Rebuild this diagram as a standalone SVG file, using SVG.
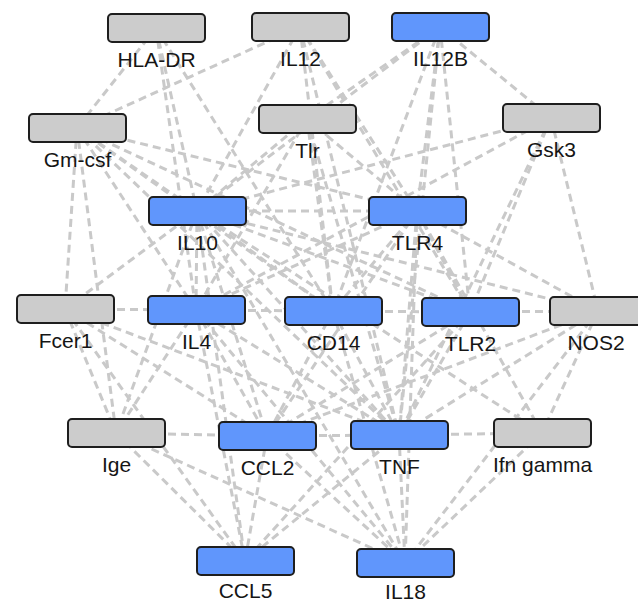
<svg xmlns="http://www.w3.org/2000/svg" width="638" height="604" viewBox="0 0 638 604">
<style>
.e{stroke:#c9c9c9;stroke-width:3;stroke-dasharray:8 5;fill:none}
.n rect{stroke:#1e1e1e;stroke-width:2}
.b rect{fill:#6096fc}
.g rect{fill:#cccccc}
.n text{font-family:"Liberation Sans",Arial,sans-serif;font-size:21px;fill:#151515;text-anchor:middle}
</style>
<rect width="638" height="604" fill="#ffffff"/>
<g id="edges">
<!-- HLA-DR -->
<line class="e" x1="156" y1="28" x2="77" y2="128"/>
<line class="e" x1="156" y1="28" x2="197" y2="211"/>
<line class="e" x1="156" y1="28" x2="196" y2="310"/>
<line class="e" x1="156" y1="28" x2="333" y2="311"/>
<!-- IL12 -->
<line class="e" x1="300" y1="27" x2="77" y2="128"/>
<line class="e" x1="300" y1="27" x2="197" y2="211"/>
<line class="e" x1="300" y1="27" x2="399" y2="435"/>
<line class="e" x1="300" y1="27" x2="417" y2="211"/>
<line class="e" x1="300" y1="27" x2="470" y2="312"/>
<line class="e" x1="300" y1="27" x2="333" y2="311"/>
<!-- IL12B -->
<line class="e" x1="440" y1="27" x2="197" y2="211"/>
<line class="e" x1="440" y1="27" x2="307" y2="119"/>
<line class="e" x1="440" y1="27" x2="551" y2="118"/>
<line class="e" x1="440" y1="27" x2="417" y2="211"/>
<line class="e" x1="440" y1="27" x2="399" y2="435"/>
<line class="e" x1="440" y1="27" x2="470" y2="312"/>
<line class="e" x1="440" y1="27" x2="333" y2="311"/>
<!-- Gm-csf -->
<line class="e" x1="77" y1="128" x2="65" y2="309"/>
<line class="e" x1="77" y1="128" x2="116" y2="433"/>
<line class="e" x1="77" y1="128" x2="197" y2="211"/>
<line class="e" x1="77" y1="128" x2="196" y2="310"/>
<line class="e" x1="77" y1="128" x2="333" y2="311"/>
<line class="e" x1="77" y1="128" x2="470" y2="312"/>
<line class="e" x1="77" y1="128" x2="399" y2="435"/>
<line class="e" x1="77" y1="128" x2="417" y2="211"/>
<!-- Tlr -->
<line class="e" x1="307" y1="119" x2="197" y2="211"/>
<line class="e" x1="307" y1="119" x2="333" y2="311"/>
<line class="e" x1="307" y1="119" x2="399" y2="435"/>
<line class="e" x1="307" y1="119" x2="417" y2="211"/>
<line class="e" x1="307" y1="119" x2="196" y2="310"/>
<!-- Gsk3 -->
<line class="e" x1="551" y1="118" x2="197" y2="211"/>
<line class="e" x1="551" y1="118" x2="196" y2="310"/>
<line class="e" x1="551" y1="118" x2="470" y2="312"/>
<line class="e" x1="551" y1="118" x2="598" y2="311"/>
<line class="e" x1="551" y1="118" x2="399" y2="435"/>
<!-- IL10 -->
<line class="e" x1="197" y1="211" x2="196" y2="310"/>
<line class="e" x1="197" y1="211" x2="333" y2="311"/>
<line class="e" x1="197" y1="211" x2="417" y2="211"/>
<line class="e" x1="197" y1="211" x2="470" y2="312"/>
<line class="e" x1="197" y1="211" x2="598" y2="311"/>
<line class="e" x1="197" y1="211" x2="399" y2="435"/>
<line class="e" x1="197" y1="211" x2="267" y2="436"/>
<line class="e" x1="197" y1="211" x2="116" y2="433"/>
<line class="e" x1="197" y1="211" x2="65" y2="309"/>
<line class="e" x1="197" y1="211" x2="542" y2="433"/>
<line class="e" x1="197" y1="211" x2="405" y2="563"/>
<line class="e" x1="197" y1="211" x2="245" y2="561"/>
<!-- TLR4 -->
<line class="e" x1="417" y1="211" x2="333" y2="311"/>
<line class="e" x1="417" y1="211" x2="470" y2="312"/>
<line class="e" x1="417" y1="211" x2="399" y2="435"/>
<line class="e" x1="417" y1="211" x2="598" y2="311"/>
<line class="e" x1="417" y1="211" x2="196" y2="310"/>
<line class="e" x1="417" y1="211" x2="267" y2="436"/>
<line class="e" x1="417" y1="211" x2="405" y2="563"/>
<line class="e" x1="417" y1="211" x2="542" y2="433"/>
<!-- Fcer1 -->
<line class="e" x1="65" y1="309" x2="196" y2="310"/>
<line class="e" x1="65" y1="309" x2="116" y2="433"/>
<line class="e" x1="65" y1="309" x2="267" y2="436"/>
<line class="e" x1="65" y1="309" x2="399" y2="435"/>
<line class="e" x1="65" y1="309" x2="245" y2="561"/>
<!-- IL4 -->
<line class="e" x1="196" y1="310" x2="333" y2="311"/>
<line class="e" x1="196" y1="310" x2="116" y2="433"/>
<line class="e" x1="196" y1="310" x2="267" y2="436"/>
<line class="e" x1="196" y1="310" x2="399" y2="435"/>
<line class="e" x1="196" y1="310" x2="245" y2="561"/>
<line class="e" x1="196" y1="310" x2="405" y2="563"/>
<!-- CD14 -->
<line class="e" x1="333" y1="311" x2="470" y2="312"/>
<line class="e" x1="333" y1="311" x2="399" y2="435"/>
<line class="e" x1="333" y1="311" x2="267" y2="436"/>
<line class="e" x1="333" y1="311" x2="405" y2="563"/>
<!-- TLR2 -->
<line class="e" x1="470" y1="312" x2="598" y2="311"/>
<line class="e" x1="470" y1="312" x2="399" y2="435"/>
<line class="e" x1="470" y1="312" x2="267" y2="436"/>
<line class="e" x1="470" y1="312" x2="245" y2="561"/>
<!-- NOS2 -->
<line class="e" x1="598" y1="311" x2="399" y2="435"/>
<line class="e" x1="598" y1="311" x2="542" y2="433"/>
<line class="e" x1="598" y1="311" x2="267" y2="436"/>
<line class="e" x1="598" y1="311" x2="405" y2="563"/>
<!-- bottom rows -->
<line class="e" x1="116" y1="433" x2="267" y2="436"/>
<line class="e" x1="116" y1="433" x2="245" y2="561"/>
<line class="e" x1="116" y1="433" x2="405" y2="563"/>
<line class="e" x1="267" y1="436" x2="399" y2="435"/>
<line class="e" x1="267" y1="436" x2="245" y2="561"/>
<line class="e" x1="267" y1="436" x2="405" y2="563"/>
<line class="e" x1="399" y1="435" x2="542" y2="433"/>
<line class="e" x1="399" y1="435" x2="405" y2="563"/>
<line class="e" x1="399" y1="435" x2="245" y2="561"/>
<line class="e" x1="542" y1="433" x2="405" y2="563"/>
</g>
<g id="HLA-DR" class="n g"><rect x="108" y="14" width="97" height="28" rx="4"/><text x="156.5" y="67">HLA-DR</text></g>
<g id="IL12" class="n g"><rect x="252" y="13" width="97" height="28" rx="4"/><text x="300.5" y="66">IL12</text></g>
<g id="IL12B" class="n b"><rect x="392" y="13" width="97" height="28" rx="4"/><text x="440.5" y="66">IL12B</text></g>
<g id="Gm-csf" class="n g"><rect x="29" y="114" width="97" height="28" rx="4"/><text x="77.5" y="167">Gm-csf</text></g>
<g id="Tlr" class="n g"><rect x="259" y="105" width="97" height="28" rx="4"/><text x="307.5" y="158">Tlr</text></g>
<g id="Gsk3" class="n g"><rect x="503" y="104" width="97" height="28" rx="4"/><text x="551.5" y="157">Gsk3</text></g>
<g id="IL10" class="n b"><rect x="149" y="197" width="97" height="28" rx="4"/><text x="197.5" y="250">IL10</text></g>
<g id="TLR4" class="n b"><rect x="369" y="197" width="97" height="28" rx="4"/><text x="417.5" y="250">TLR4</text></g>
<g id="Fcer1" class="n g"><rect x="17" y="295" width="97" height="28" rx="4"/><text x="65.5" y="348">Fcer1</text></g>
<g id="IL4" class="n b"><rect x="148" y="296" width="97" height="28" rx="4"/><text x="196.5" y="349">IL4</text></g>
<g id="CD14" class="n b"><rect x="285" y="297" width="97" height="28" rx="4"/><text x="333.5" y="350">CD14</text></g>
<g id="TLR2" class="n b"><rect x="422" y="298" width="97" height="28" rx="4"/><text x="470.5" y="351">TLR2</text></g>
<g id="NOS2" class="n g"><rect x="550" y="297" width="97" height="28" rx="4"/><text x="596" y="350">NOS2</text></g>
<g id="Ige" class="n g"><rect x="68" y="419" width="97" height="28" rx="4"/><text x="116.5" y="472">Ige</text></g>
<g id="CCL2" class="n b"><rect x="219" y="422" width="97" height="28" rx="4"/><text x="267.5" y="475">CCL2</text></g>
<g id="TNF" class="n b"><rect x="351" y="421" width="97" height="28" rx="4"/><text x="399.5" y="474">TNF</text></g>
<g id="Ifn_gamma" class="n g"><rect x="494" y="419" width="97" height="28" rx="4"/><text x="542.5" y="472">Ifn gamma</text></g>
<g id="CCL5" class="n b"><rect x="197" y="547" width="97" height="28" rx="4"/><text x="245.5" y="598">CCL5</text></g>
<g id="IL18" class="n b"><rect x="357" y="549" width="97" height="28" rx="4"/><text x="405.5" y="599">IL18</text></g>
</svg>
